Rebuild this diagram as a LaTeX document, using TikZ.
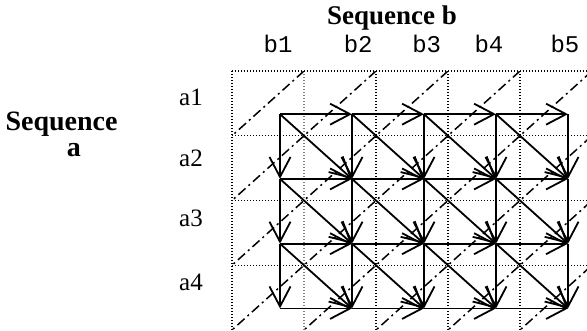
\documentclass[tikz,border=0pt]{standalone}
\usepackage{fontspec}
\setmainfont{Liberation Serif}
\setmonofont{Liberation Mono}
\usetikzlibrary{arrows.meta}
\tikzstyle{every node}=[inner sep=0pt]
\tikzstyle{cellgrid}=[line width=1.4pt,dash pattern=on 1.3pt off 1.7pt]
\tikzstyle{antidiag}=[line width=1.5pt,dash pattern=on 9.5pt off 4pt on 2pt off 4pt]
\tikzstyle{move}=[line width=1.8pt,-{Straight Barb[length=20pt,width=21pt]}]
\tikzstyle{seqtitle}=[font=\bfseries\fontsize{27}{23}\selectfont]
\tikzstyle{alabel}=[font=\fontsize{25}{25}\selectfont,anchor=base]
\tikzstyle{blabel}=[font=\ttfamily\fontsize{24}{24}\selectfont,anchor=base]
\newcommand{\nrows}{4}
\newcommand{\ncols}{5}

\begin{document}
\begin{tikzpicture}[x=72pt,y=-64.75pt]
	\useasboundingbox (-3.2222,-1.0965) rectangle (4.9306,4);
	
	% dotted cells
	\foreach \u in {0,2,3,4,5}
		\draw[cellgrid] (\u,0) -- (\u,\nrows);
	\draw[cellgrid,gray] (1,0) -- (1,\nrows);
	\foreach \v in {0,...,3}
		\draw[cellgrid] (0,\v) -- (\ncols,\v);
	
	% anti-diagonals
	\begin{scope}
		\clip (0,0) rectangle (\ncols,\nrows);
		\foreach \k in {1,...,8}
			\draw[antidiag] (\k,0) -- (0,\k);
	\end{scope}
	
	% lattice points
	\foreach \i in {1,...,\nrows}
		\foreach \j in {1,...,\ncols}
			\coordinate (n\i\j) at ({\j-1/3},{\i-1/3});
	
	\foreach \i in {1,...,\nrows}
		\foreach \j in {1,...,4}{
			\pgfmathtruncatemacro{\jj}{\j+1}
			\draw[move] (n\i\j) -- (n\i\jj);
		}
	\foreach \i in {1,...,3}
		\foreach \j in {1,...,\ncols}{
			\pgfmathtruncatemacro{\ii}{\i+1}
			\draw[move] (n\i\j) -- (n\ii\j);
		}
	\foreach \i in {1,...,3}
		\foreach \j in {1,...,4}{
			\pgfmathtruncatemacro{\ii}{\i+1}
			\pgfmathtruncatemacro{\jj}{\j+1}
			\draw[move] (n\i\j) -- (n\ii\jj);
		}
	
	% labels
	\node[seqtitle,anchor=base] (seqb) at (2.222,-0.718) {Sequence b};
	\node[seqtitle,font=\bfseries\fontsize{28}{26}\selectfont,align=center,anchor=north] (seqa) at (-2.368,0.633) {Sequence\\\hspace*{25pt}a};
	
	\foreach \i/\v in {1/0.536,2/1.478,3/2.405,4/3.385}
		\node[alabel] (a\i) at (-0.569,\v) {a\i};
	\foreach \j/\u in {1/0.639,2/1.753,3/2.704,4/3.569,5/4.625}
		\node[blabel] (b\j) at (\u,-0.293) {b\j};
	
\end{tikzpicture}
\end{document}
